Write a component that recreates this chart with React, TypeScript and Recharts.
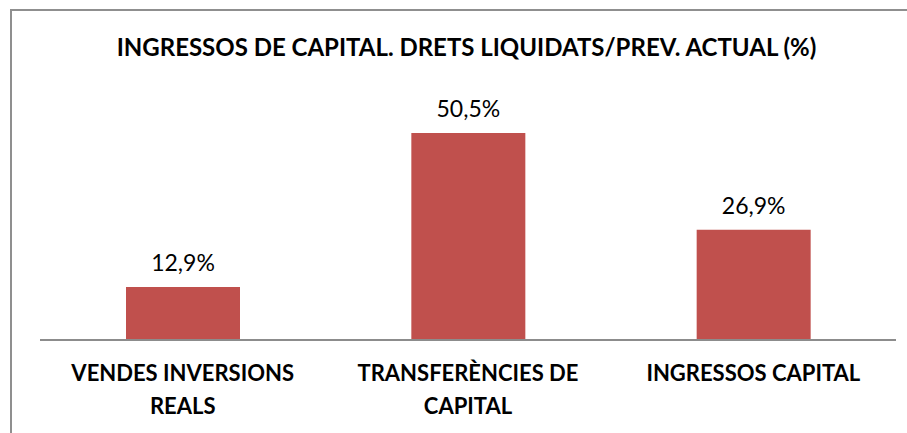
import { Bar, BarChart, LabelList, XAxis, YAxis } from 'recharts';

const categories = ['VENDES INVERSIONS|REALS', 'TRANSFERÈNCIES DE|CAPITAL', 'INGRESSOS CAPITAL'];
const values = [12.9, 50.5, 26.9];

const rows = categories.map((name, i) => ({ name, value: values[i] }));

const FONT = 'Lato, "Open Sans", Calibri, sans-serif';

function fmtPct(v: unknown): string {
  return `${Number(v).toFixed(1).replace('.', ',')}%`;
}

function CategoryTick(props: any) {
  const { x, y, payload } = props;
  const lines = String(payload.value).split('|');
  return (
    <text
      x={x}
      y={y}
      textAnchor="middle"
      fontFamily={FONT}
      fontWeight={700}
      fontSize={22}
      fill="#000"
    >
      {lines.map((line, i) => (
        <tspan key={i} x={x} dy={i === 0 ? 33 : 33}>
          {line}
        </tspan>
      ))}
    </text>
  );
}

export default function App() {
  return (
    <div style={{ position: 'relative', width: 907, height: 433, overflow: 'hidden' }}>
      <style>{'body{margin:0;background:#fff}'}</style>
      <div
        style={{
          position: 'absolute',
          left: 10,
          top: 9,
          width: 1000,
          height: 500,
          border: '2px solid #8f8f8f',
          boxSizing: 'border-box',
        }}
      />
      <div
        style={{
          position: 'absolute',
          left: 0,
          top: 31,
          width: 933,
          textAlign: 'center',
          fontFamily: FONT,
          fontWeight: 700,
          fontSize: 24,
          lineHeight: '32px',
          color: '#000',
        }}
      >
        INGRESSOS DE CAPITAL. DRETS LIQUIDATS/PREV. ACTUAL (%)
      </div>
      <BarChart
        width={907}
        height={433}
        data={rows}
        margin={{ top: 94, right: 11, left: 40, bottom: 0 }}
        style={{ position: 'absolute', left: 0, top: 0 }}
      >
        <XAxis
          dataKey="name"
          height={93}
          axisLine={{ stroke: '#8c8c8c', strokeWidth: 2 }}
          tickLine={false}
          tick={<CategoryTick />}
          interval={0}
        />
        <YAxis hide domain={[0, 60]} />
        <Bar dataKey="value" fill="#C0504D" barSize={114} isAnimationActive={false}>
          <LabelList
            dataKey="value"
            position="top"
            offset={16}
            formatter={fmtPct}
            fill="#000"
            fontFamily={FONT}
            fontSize={23}
          />
        </Bar>
      </BarChart>
    </div>
  );
}
